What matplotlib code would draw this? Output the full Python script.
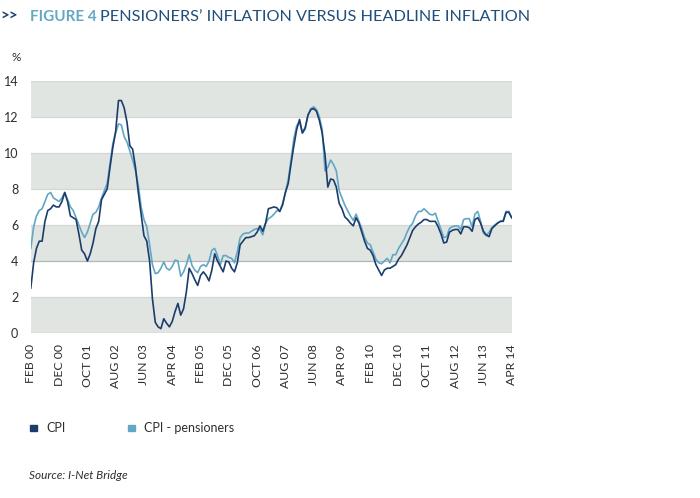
import matplotlib.pyplot as plt

# monthly series, Feb 2000 .. Apr 2014
months = ["JAN", "FEB", "MAR", "APR", "MAY", "JUN",
          "JUL", "AUG", "SEP", "OCT", "NOV", "DEC"]
start_year = 2000
start_month = 1  # index into months -> FEB

cpi = [
    # 2000 (Feb-Dec)
    2.5, 3.9, 4.7, 5.1, 5.1, 6.2, 6.8, 6.9, 7.1, 7.0, 7.0,
    # 2001
    7.3, 7.8, 7.3, 6.5, 6.4, 6.3, 5.5, 4.6, 4.4, 4.0, 4.4, 5.0,
    # 2002
    5.8, 6.2, 7.4, 7.7, 8.0, 9.2, 10.3, 11.2, 12.9, 12.9, 12.5, 11.7,
    # 2003
    10.4, 10.2, 9.2, 7.8, 6.6, 5.4, 5.1, 4.0, 1.9, 0.6, 0.35, 0.25,
    # 2004
    0.8, 0.55, 0.35, 0.65, 1.2, 1.65, 1.0, 1.35, 2.3, 3.6, 3.3, 2.95,
    # 2005
    2.65, 3.2, 3.4, 3.2, 2.9, 3.5, 4.4, 4.0, 3.7, 3.4, 4.0, 3.95,
    # 2006
    3.6, 3.4, 3.9, 4.9, 5.1, 5.3, 5.3, 5.35, 5.4, 5.6, 5.95, 5.65,
    # 2007
    6.1, 6.9, 6.95, 7.0, 6.95, 6.75, 7.1, 7.8, 8.3, 9.4, 10.4, 11.3,
    # 2008
    11.85, 11.1, 11.4, 12.1, 12.4, 12.45, 12.3, 11.8, 11.1, 9.9, 8.1, 8.55,
    # 2009
    8.5, 8.1, 7.2, 6.9, 6.45, 6.3, 6.1, 5.95, 6.4, 6.1, 5.6, 5.1,
    # 2010
    4.7, 4.6, 4.3, 3.8, 3.5, 3.2, 3.5, 3.6, 3.6, 3.7, 3.8, 4.1,
    # 2011
    4.3, 4.6, 4.9, 5.3, 5.7, 5.9, 6.05, 6.15, 6.3, 6.3, 6.2, 6.2,
    # 2012
    6.2, 5.9, 5.5, 5.0, 5.05, 5.6, 5.7, 5.75, 5.75, 5.5, 5.9, 5.9,
    # 2013
    5.85, 5.65, 6.3, 6.4, 6.1, 5.65, 5.45, 5.35, 5.8, 5.95, 6.1, 6.2,
    # 2014 (Jan-Apr)
    6.2, 6.7, 6.7, 6.4,
]

cpi_pensioners = [
    # 2000 (Feb-Dec)
    4.7, 5.9, 6.5, 6.8, 6.9, 7.3, 7.7, 7.8, 7.5, 7.4, 7.3,
    # 2001
    7.5, 7.8, 7.4, 7.0, 6.8, 6.4, 6.0, 5.6, 5.3, 5.6, 6.1, 6.6,
    # 2002
    6.7, 7.0, 7.5, 7.9, 8.3, 9.4, 10.5, 11.1, 11.6, 11.55, 10.9, 10.6,
    # 2003
    10.1, 9.6, 9.0, 8.2, 7.0, 6.3, 5.9, 4.9, 3.8, 3.3, 3.35, 3.6,
    # 2004
    3.95, 3.6, 3.5, 3.7, 4.05, 4.0, 3.15, 3.4, 3.8, 4.35, 3.75, 3.5,
    # 2005
    3.35, 3.7, 3.8, 3.7, 4.0, 4.6, 4.7, 4.3, 3.8, 4.3, 4.3, 4.2,
    # 2006
    4.15, 3.9, 4.5, 5.3, 5.5, 5.55, 5.55, 5.65, 5.75, 5.8, 5.75, 5.45,
    # 2007
    6.1, 6.35, 6.45, 6.6, 6.8, 6.75, 7.2, 7.8, 8.5, 9.6, 10.8, 11.5,
    # 2008
    11.7, 11.1, 11.3, 12.1, 12.45, 12.55, 12.4, 12.0, 11.3, 9.0, 9.2, 9.6,
    # 2009
    9.35, 9.0, 7.9, 7.5, 7.1, 6.8, 6.5, 6.25, 6.6, 6.2, 5.8, 5.3,
    # 2010
    5.0, 4.9, 4.5, 4.1, 3.9, 3.85, 4.0, 4.15, 3.9, 4.35, 4.35, 4.7,
    # 2011
    4.95, 5.2, 5.6, 5.9, 6.1, 6.5, 6.75, 6.75, 6.9, 6.75, 6.6, 6.55,
    # 2012
    6.65, 6.2, 5.75, 5.3, 5.35, 5.8, 5.9, 5.95, 5.95, 5.75, 6.3, 6.35,
    # 2013
    6.35, 5.9, 6.6, 6.75, 6.2, 5.55, 5.4, 5.6, 5.85, 6.0, 6.1, 6.2,
    # 2014 (Jan-Apr)
    6.25, 6.75, 6.75, 6.4,
]

y_ticks = [0, 2, 4, 6, 8, 10, 12, 14]
tick_step = 10  # months between x labels

navy = "#1c3d6c"
light_blue = "#62a7c5"
band = "#e0e5e1"
text_col = "#2e2e2e"

plt.rcParams["font.family"] = ["Lato", "DejaVu Sans"]

fig = plt.figure(figsize=(7, 4.98), dpi=100)
ax = fig.add_axes([0.044, 0.331, 0.687, 0.507])

x = list(range(len(cpi)))

# shaded bands
for lo in (0, 4, 8, 12):
    ax.axhspan(lo, lo + 2, color=band, lw=0, zorder=0)
for v in y_ticks:
    col = "#b3b7b6" if v in (0, 4) else "#d3d8d5"
    ax.axhline(v, color=col, lw=0.9, zorder=1)

ax.plot(x, cpi_pensioners, color=light_blue, lw=1.2, zorder=3)
ax.plot(x, cpi, color=navy, lw=1.2, zorder=4)

ax.set_xlim(0, len(cpi) - 1)
ax.set_ylim(0, 14)

tick_pos = list(range(0, len(cpi), tick_step))
tick_lab = []
for p in tick_pos:
    m = start_month + p
    tick_lab.append(f"{months[m % 12]} {(start_year + m // 12) % 100:02d}")
ax.set_xticks(tick_pos)
ax.set_xticklabels(tick_lab, rotation=90, fontsize=8.8, color=text_col)
ax.set_yticks(y_ticks)
ax.set_yticklabels([str(v) for v in y_ticks], fontsize=9, color=text_col)
ax.tick_params(length=0, pad=9, axis="y")
ax.tick_params(length=0, pad=8, axis="x")
for s in ax.spines.values():
    s.set_visible(False)

# title
fig.text(0.0, 0.958, ">>", fontsize=11, color=navy, va="baseline", fontweight="bold")
fig.text(0.043, 0.958, "FIGURE 4", fontsize=11, color=light_blue,
         fontweight="bold", va="baseline")
fig.text(0.143, 0.958, "PENSIONERS’ INFLATION VERSUS HEADLINE INFLATION",
         fontsize=11.7, color="#1f4f7a", va="baseline")

fig.text(0.016, 0.878, "%", fontsize=8.5, color=text_col)

# legend
fig.patches.append(plt.Rectangle((0.043, 0.134), 0.0095, 0.013, transform=fig.transFigure,
                                 color=navy, figure=fig))
fig.text(0.066, 0.14, "CPI", fontsize=9, color=text_col, va="center")
fig.patches.append(plt.Rectangle((0.183, 0.134), 0.0095, 0.013, transform=fig.transFigure,
                                 color=light_blue, figure=fig))
fig.text(0.206, 0.14, "CPI - pensioners", fontsize=9, color=text_col, va="center")

fig.text(0.041, 0.038, "Source: I-Net Bridge", fontsize=8.5, style="italic", color=text_col)

fig.savefig("out.png", dpi=100)
